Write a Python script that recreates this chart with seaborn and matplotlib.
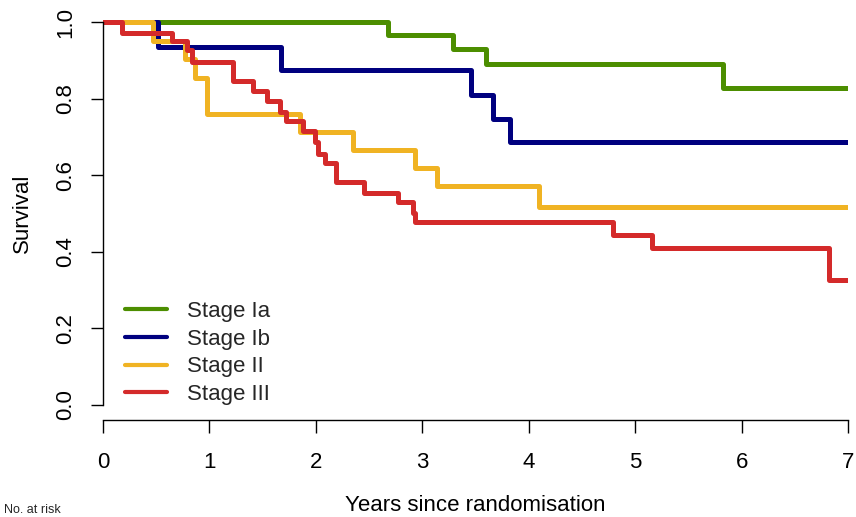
import matplotlib
matplotlib.use("Agg")
import matplotlib.pyplot as plt
import seaborn as sns
import pandas as pd

# ---- data ----
stage_ia_t = [0.0, 2.68, 3.29, 3.60, 5.83, 7.0]
stage_ia_s = [1.0, 0.968, 0.929, 0.892, 0.827, 0.827]

stage_ib_t = [0.0, 0.52, 1.67, 3.455, 3.66, 3.82, 7.0]
stage_ib_s = [1.0, 0.936, 0.874, 0.811, 0.748, 0.687, 0.687]

stage_ii_t = [0.0, 0.467, 0.77, 0.862, 0.974, 1.85, 2.35, 2.93, 3.14, 4.10, 7.0]
stage_ii_s = [1.0, 0.950, 0.905, 0.855, 0.761, 0.713, 0.667, 0.619, 0.571, 0.518, 0.518]

stage_iii_t = [0.0, 0.175, 0.645, 0.79, 0.84, 1.225, 1.41, 1.54, 1.66, 1.72, 1.88,
               1.99, 2.02, 2.085, 2.19, 2.45, 2.77, 2.91, 2.93, 4.79, 5.16, 6.82, 7.0]
stage_iii_s = [1.0, 0.973, 0.950, 0.927, 0.896, 0.846, 0.820, 0.794, 0.765, 0.742, 0.715,
               0.687, 0.656, 0.632, 0.582, 0.553, 0.530, 0.501, 0.477, 0.445, 0.409, 0.326, 0.326]

stages = ["Stage Ia", "Stage Ib", "Stage II", "Stage III"]
colors = ["#4C8E00", "#00007F", "#F0B323", "#D42A2A"]
x_ticks = [0, 1, 2, 3, 4, 5, 6, 7]
y_ticks = [0.0, 0.2, 0.4, 0.6, 0.8, 1.0]

frames = []
for name, t, s in zip(stages,
                      [stage_ia_t, stage_ib_t, stage_ii_t, stage_iii_t],
                      [stage_ia_s, stage_ib_s, stage_ii_s, stage_iii_s]):
    frames.append(pd.DataFrame({"time": t, "surv": s, "stage": name}))
df = pd.concat(frames, ignore_index=True)

sns.set_theme(style="white")
plt.rcParams["font.family"] = ["Liberation Sans", "DejaVu Sans"]

fig = plt.figure(figsize=(8.56, 5.17), dpi=100)
ax = fig.add_axes([103 / 856, 1 - 420 / 517, 745 / 856, 413 / 517])

sns.lineplot(data=df, x="time", y="surv", hue="stage", hue_order=stages,
             palette=colors, estimator=None, sort=False, drawstyle="steps-post",
             linewidth=3.6, ax=ax, legend=True)

ax.set_xlim(0, 7)
ax.set_ylim(-0.04, 1.04)
ax.set_xticks(x_ticks)
ax.set_yticks(y_ticks)
ax.set_xticklabels([str(v) for v in x_ticks])
ax.set_yticklabels([f"{v:.1f}" for v in y_ticks], rotation=90, va="center")

for side in ["top", "right"]:
    ax.spines[side].set_visible(False)
for side in ["left", "bottom"]:
    ax.spines[side].set_color("black")
    ax.spines[side].set_linewidth(1.0)
ax.spines["left"].set_bounds(0, 1)
ax.spines["bottom"].set_bounds(0, 7)

ax.tick_params(axis="both", direction="out", length=9, width=1.0, color="black",
               labelsize=16, labelcolor="black")
ax.tick_params(axis="x", pad=14, bottom=True)
ax.tick_params(axis="y", pad=10, left=True)

ax.set_xlabel("Years since randomisation", fontsize=16, labelpad=16, color="black")
ax.set_ylabel("Survival", fontsize=16, labelpad=16, color="black")

leg = ax.legend(loc="upper left", frameon=False,
                fontsize=16, handlelength=1.9, handletextpad=0.9,
                labelspacing=0.3, borderaxespad=0, borderpad=0)
leg.set_bbox_to_anchor((125 / 856, 1 - 301 / 517), transform=fig.transFigure)
for h in leg.get_lines():
    h.set_linewidth(3.0)

fig.text(4 / 856, 1 / 517, "No. at risk", fontsize=9, va="bottom", ha="left")

fig.savefig("out.png", dpi=100)
